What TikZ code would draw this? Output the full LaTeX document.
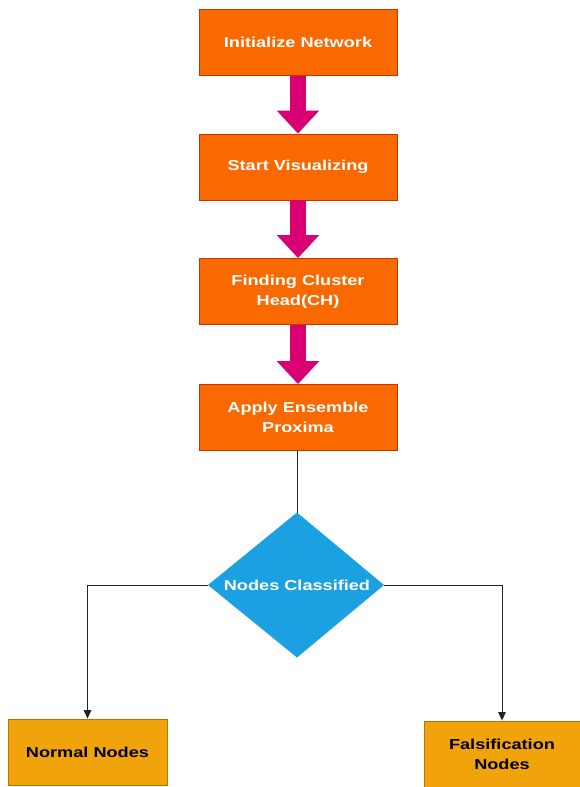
\documentclass[tikz,border=0pt]{standalone}
\usepackage{fontspec}
\setmainfont{Liberation Sans}[FakeStretch=1.26]
\usetikzlibrary{arrows.meta,calc}
\definecolor{boxorange}{HTML}{FA6800}
\definecolor{boxorangeline}{HTML}{C73500}
\definecolor{arrowmag}{HTML}{D80073}
\definecolor{diablue}{HTML}{1BA1E2}
\definecolor{leafyellow}{HTML}{F0A30A}
\definecolor{leafline}{HTML}{BD7000}
\definecolor{conn}{HTML}{222222}
\tikzset{
  stepbox/.style={draw=boxorangeline, line width=0.8pt, fill=boxorange, text=white,
    minimum width=198pt, minimum height=66pt, inner sep=0pt, align=center,
    font=\fontsize{14.4}{20}\selectfont\bfseries},
  leafbox/.style={draw=leafline, line width=0.8pt, fill=leafyellow, text=black,
    minimum height=66pt, inner sep=0pt, align=center,
    font=\fontsize{14.4}{20}\selectfont\bfseries},
  bigarrow/.style={draw=arrowmag, line width=16pt,
    -{Triangle[width=41pt,length=23pt]}, arrowmag},
  thinconn/.style={draw=conn, line width=0.9pt},
  thinarrow/.style={draw=conn, line width=0.9pt, -{Triangle[width=7.5pt,length=8.5pt]}},
}
\begin{document}
\begin{tikzpicture}[x=1pt,y=1pt]
\useasboundingbox[fill=white] (0,0) rectangle (579,-787);

\node[stepbox] (init) at (298,-42.5) {Initialize Network};
\node[stepbox] (vis) at (298,-167) {Start Visualizing};
\node[stepbox] (find) at (298,-291.5) {Finding Cluster\\Head(CH)};
\node[stepbox] (apply) at (298,-417.5) {Apply Ensemble\\Proxima};

\draw[bigarrow] (init.south) -- (vis.north);
\draw[bigarrow] (vis.south) -- (find.north);
\draw[bigarrow] (find.south) -- (apply.north);

% decision diamond
\coordinate (dc) at (297,-585);
\coordinate (dtop) at ($(dc)+(0,72.5)$);
\coordinate (dbot) at ($(dc)+(0,-72.5)$);
\coordinate (dleft) at ($(dc)+(-89,0)$);
\coordinate (dright) at ($(dc)+(87,0)$);
\fill[diablue] (dtop) -- (dright) -- (dbot) -- (dleft) -- cycle;
\node[text=white, font=\fontsize{14.4}{20}\selectfont\bfseries, inner sep=0pt] (cls) at (dc) {Nodes Classified};

\node[leafbox, minimum width=159pt] (normal) at (87.5,-752) {Normal Nodes};
\node[leafbox, minimum width=156pt] (fals) at (502,-754) {Falsification\\Nodes};

\draw[thinconn] (dtop |- apply.south) -- (dtop);
\draw[thinarrow] (dleft) -| (normal.north);
\draw[thinarrow] (dright) -| (fals.north);
\end{tikzpicture}
\end{document}
